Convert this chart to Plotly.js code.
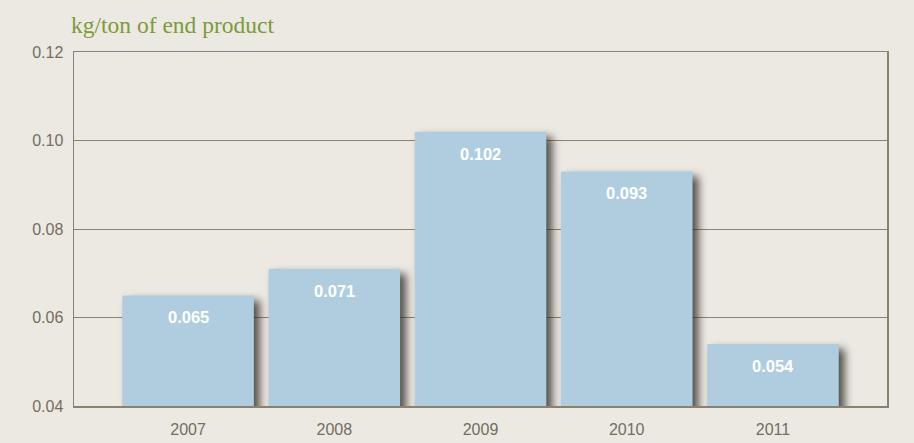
<!DOCTYPE html>
<html>
<head>
<meta charset="utf-8">
<script src="https://cdn.plot.ly/plotly-3.0.1.min.js"></script>
<style>
  html, body { margin: 0; padding: 0; background: #ece9e3; }
  #chart { width: 914px; height: 443px; }
  /* soft drop shadow under the bars */
  .barlayer .point path { filter: drop-shadow(6px 5px 4px rgba(45, 40, 30, 0.8)); }
</style>
</head>
<body>
<div id="chart"></div>
<script>
// kg/ton of end product, per year
const years = ['2007', '2008', '2009', '2010', '2011'];
const values = [0.065, 0.071, 0.102, 0.093, 0.054];
const labels = ['0.065', '0.071', '0.102', '0.093', '0.054'];

const barColor = '#b0cde0';
const lineColor = '#8a8171';
const tickColor = '#736e61';

const trace = {
    x: years, y: values, type: 'bar',
    marker: {color: barColor, line: {width: 0}},
    hoverinfo: 'none'
};

// value labels sit a little below the top of each bar
// (x given as category index; year strings get read as numbers)
const notes = years.map((yr, i) => {
    return {x: i, y: values[i], xref: 'x', yref: 'y',
            text: '<b>' + labels[i] + '</b>', showarrow: false,
            yanchor: 'middle', yshift: -22,
            font: {family: 'Liberation Sans, Arial, sans-serif', size: 16.5, color: '#ffffff'}};
});

notes.push({text: 'kg/ton of end product', xref: 'paper', yref: 'paper',
            x: -0.006, y: 1.0, yshift: 27, xanchor: 'left', yanchor: 'middle',
            showarrow: false,
            font: {family: 'Liberation Serif, serif', size: 23.5, color: '#7d9a3c'}});

const layout = {
    width: 914, height: 443,
    margin: {l: 74, r: 27, t: 52, b: 37},
    paper_bgcolor: '#ece9e3', plot_bgcolor: '#ece9e3',
    bargap: 0.1,
    showlegend: false,
    xaxis: {type: 'category', range: [-0.78, 4.78],
            showline: true, linecolor: lineColor, linewidth: 1.5, mirror: true,
            showgrid: false, ticks: '', ticklabelstandoff: 8,
            tickfont: {family: 'Liberation Sans, Arial, sans-serif', size: 16, color: tickColor}},
    yaxis: {range: [0.04, 0.12], dtick: 0.02, tickformat: '.2f',
            showline: true, linecolor: lineColor, linewidth: 1.5, mirror: true,
            gridcolor: lineColor, gridwidth: 1, zeroline: false, ticks: '',
            ticklabelstandoff: 6,
            tickfont: {family: 'Liberation Sans, Arial, sans-serif', size: 16, color: tickColor}},
    annotations: notes
};

Plotly.newPlot('chart', [trace], layout, {displayModeBar: false, staticPlot: true});
</script>
</body>
</html>
